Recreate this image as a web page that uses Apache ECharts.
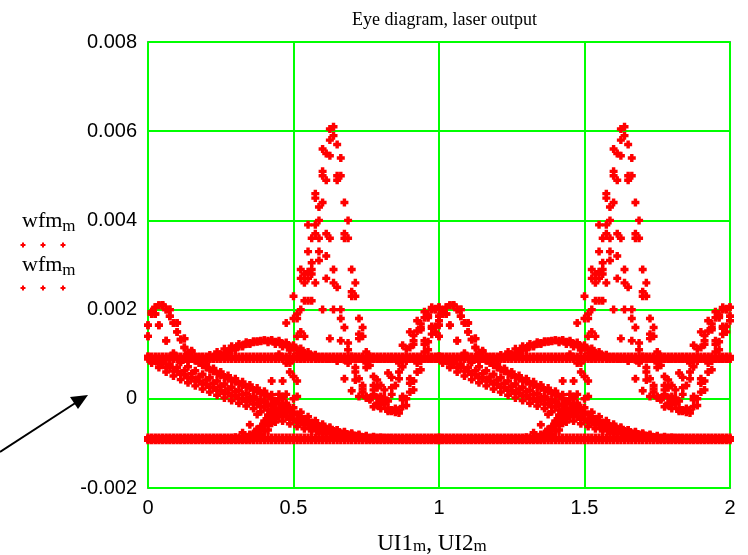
<!DOCTYPE html>
<html><head><meta charset="utf-8">
<script src="https://cdn.jsdelivr.net/npm/echarts@6/dist/echarts.min.js"></script>
<style>html,body{margin:0;padding:0;background:#fff}#c{width:748px;height:555px}</style>
</head><body><div id="c"></div>
<script>
// Sample positions inside one unit interval (grid A and interleaved grid B)
const UI1_A = [0,0.025,0.05,0.075,0.1,0.125,0.15,0.175,0.2,0.225,0.25,0.275,0.3,0.325,0.35,0.375,0.4,0.425,0.45,0.475,0.5,0.525,0.55,0.575,0.6,0.625,0.65,0.675,0.7,0.725,0.75,0.775,0.8,0.825,0.85,0.875,0.9,0.925,0.95,0.975,1];
const UI1_B = [0.0125,0.0375,0.0625,0.0875,0.1125,0.1375,0.1625,0.1875,0.2125,0.2375,0.2625,0.2875,0.3125,0.3375,0.3625,0.3875,0.4125,0.4375,0.4625,0.4875,0.5125,0.5375,0.5625,0.5875,0.6125,0.6375,0.6625,0.6875,0.7125,0.7375,0.7625,0.7875,0.8125,0.8375,0.8625,0.8875,0.9125,0.9375,0.9625,0.9875];
const UI2_A = [1,1.025,1.05,1.075,1.1,1.125,1.15,1.175,1.2,1.225,1.25,1.275,1.3,1.325,1.35,1.375,1.4,1.425,1.45,1.475,1.5,1.525,1.55,1.575,1.6,1.625,1.65,1.675,1.7,1.725,1.75,1.775,1.8,1.825,1.85,1.875,1.9,1.925,1.95,1.975,2];
const UI2_B = [1.0125,1.0375,1.0625,1.0875,1.1125,1.1375,1.1625,1.1875,1.2125,1.2375,1.2625,1.2875,1.3125,1.3375,1.3625,1.3875,1.4125,1.4375,1.4625,1.4875,1.5125,1.5375,1.5625,1.5875,1.6125,1.6375,1.6625,1.6875,1.7125,1.7375,1.7625,1.7875,1.8125,1.8375,1.8625,1.8875,1.9125,1.9375,1.9625,1.9875];

// wfm traces, grid A (41 samples) and grid B (40 samples)
const WFM_LOW_A = [-0.87e-3,-0.87e-3,-0.87e-3,-0.87e-3,-0.87e-3,-0.87e-3,-0.87e-3,-0.87e-3,-0.87e-3,-0.87e-3,-0.87e-3,-0.87e-3,-0.87e-3,-0.87e-3,-0.87e-3,-0.87e-3,-0.87e-3,-0.87e-3,-0.87e-3,-0.87e-3,-0.87e-3,-0.87e-3,-0.87e-3,-0.87e-3,-0.87e-3,-0.87e-3,-0.87e-3,-0.87e-3,-0.87e-3,-0.87e-3,-0.87e-3,-0.87e-3,-0.87e-3,-0.87e-3,-0.87e-3,-0.87e-3,-0.87e-3,-0.87e-3,-0.87e-3,-0.87e-3,-0.87e-3];
const WFM_LOW2_A = [-0.93e-3,-0.93e-3,-0.93e-3,-0.93e-3,-0.93e-3,-0.93e-3,-0.93e-3,-0.93e-3,-0.93e-3,-0.93e-3,-0.93e-3,-0.93e-3,-0.93e-3,-0.93e-3,-0.93e-3,-0.93e-3,-0.93e-3,-0.93e-3,-0.93e-3,-0.93e-3,-0.93e-3,-0.93e-3,-0.93e-3,-0.93e-3,-0.93e-3,-0.93e-3,-0.93e-3,-0.93e-3,-0.93e-3,-0.93e-3,-0.93e-3,-0.93e-3,-0.93e-3,-0.93e-3,-0.93e-3,-0.93e-3,-0.93e-3,-0.93e-3,-0.93e-3,-0.93e-3,-0.93e-3];
const WFM_LOW_B = [-0.93e-3,-0.93e-3,-0.93e-3,-0.93e-3,-0.93e-3,-0.93e-3,-0.93e-3,-0.93e-3,-0.93e-3,-0.93e-3,-0.93e-3,-0.93e-3,-0.93e-3,-0.93e-3,-0.93e-3,-0.93e-3,-0.93e-3,-0.93e-3,-0.93e-3,-0.93e-3,-0.93e-3,-0.93e-3,-0.93e-3,-0.93e-3,-0.93e-3,-0.93e-3,-0.93e-3,-0.93e-3,-0.93e-3,-0.93e-3,-0.93e-3,-0.93e-3,-0.93e-3,-0.93e-3,-0.93e-3,-0.93e-3,-0.93e-3,-0.93e-3,-0.93e-3,-0.93e-3];
const WFM_LOW2_B = [-0.87e-3,-0.87e-3,-0.87e-3,-0.87e-3,-0.87e-3,-0.87e-3,-0.87e-3,-0.87e-3,-0.87e-3,-0.87e-3,-0.87e-3,-0.87e-3,-0.87e-3,-0.87e-3,-0.87e-3,-0.87e-3,-0.87e-3,-0.87e-3,-0.87e-3,-0.87e-3,-0.87e-3,-0.87e-3,-0.87e-3,-0.87e-3,-0.87e-3,-0.87e-3,-0.87e-3,-0.87e-3,-0.87e-3,-0.87e-3,-0.87e-3,-0.87e-3,-0.87e-3,-0.87e-3,-0.87e-3,-0.87e-3,-0.87e-3,-0.87e-3,-0.87e-3,-0.87e-3];
const WFM_HIGH_A = [0.95e-3,0.95e-3,0.95e-3,0.95e-3,0.95e-3,0.95e-3,0.95e-3,0.95e-3,0.95e-3,0.95e-3,0.95e-3,0.95e-3,0.95e-3,0.95e-3,0.95e-3,0.95e-3,0.95e-3,0.95e-3,0.95e-3,0.95e-3,0.95e-3,0.95e-3,0.95e-3,0.95e-3,0.95e-3,0.95e-3,0.95e-3,0.95e-3,0.95e-3,0.95e-3,0.95e-3,0.95e-3,0.95e-3,0.95e-3,0.95e-3,0.95e-3,0.95e-3,0.95e-3,0.95e-3,0.95e-3,0.95e-3];
const WFM_HIGH2_A = [0.89e-3,0.89e-3,0.89e-3,0.89e-3,0.89e-3,0.89e-3,0.89e-3,0.89e-3,0.89e-3,0.89e-3,0.89e-3,0.89e-3,0.89e-3,0.89e-3,0.89e-3,0.89e-3,0.89e-3,0.89e-3,0.89e-3,0.89e-3,0.89e-3,0.89e-3,0.89e-3,0.89e-3,0.89e-3,0.89e-3,0.89e-3,0.89e-3,0.89e-3,0.89e-3,0.89e-3,0.89e-3,0.89e-3,0.89e-3,0.89e-3,0.89e-3,0.89e-3,0.89e-3,0.89e-3,0.89e-3,0.89e-3];
const WFM_HIGH_B = [0.89e-3,0.89e-3,0.89e-3,0.89e-3,0.89e-3,0.89e-3,0.89e-3,0.89e-3,0.89e-3,0.89e-3,0.89e-3,0.89e-3,0.89e-3,0.89e-3,0.89e-3,0.89e-3,0.89e-3,0.89e-3,0.89e-3,0.89e-3,0.89e-3,0.89e-3,0.89e-3,0.89e-3,0.89e-3,0.89e-3,0.89e-3,0.89e-3,0.89e-3,0.89e-3,0.89e-3,0.89e-3,0.89e-3,0.89e-3,0.89e-3,0.89e-3,0.89e-3,0.89e-3,0.89e-3,0.89e-3];
const WFM_HIGH2_B = [0.95e-3,0.95e-3,0.95e-3,0.95e-3,0.95e-3,0.95e-3,0.95e-3,0.95e-3,0.95e-3,0.95e-3,0.95e-3,0.95e-3,0.95e-3,0.95e-3,0.95e-3,0.95e-3,0.95e-3,0.95e-3,0.95e-3,0.95e-3,0.95e-3,0.95e-3,0.95e-3,0.95e-3,0.95e-3,0.95e-3,0.95e-3,0.95e-3,0.95e-3,0.95e-3,0.95e-3,0.95e-3,0.95e-3,0.95e-3,0.95e-3,0.95e-3,0.95e-3,0.95e-3,0.95e-3,0.95e-3];

const WFM_FALL_A = [0.92e-3,0.85e-3,0.78e-3,0.70e-3,0.62e-3,0.55e-3,0.47e-3,0.40e-3,0.33e-3,0.26e-3,0.19e-3,0.13e-3,0.07e-3,0.01e-3,-0.05e-3,-0.11e-3,-0.18e-3,-0.25e-3,-0.32e-3,-0.39e-3,-0.45e-3,-0.51e-3,-0.57e-3,-0.62e-3,-0.67e-3,-0.71e-3,-0.75e-3,-0.78e-3,-0.81e-3,-0.84e-3,-0.86e-3,-0.87e-3,-0.88e-3,-0.89e-3,-0.9e-3,-0.9e-3,-0.9e-3,-0.9e-3,-0.9e-3,-0.9e-3,-0.9e-3];
const WFM_FALL2_A = [0.95e-3,0.9e-3,0.84e-3,0.77e-3,0.7e-3,0.63e-3,0.56e-3,0.49e-3,0.42e-3,0.35e-3,0.28e-3,0.22e-3,0.16e-3,0.1e-3,0.04e-3,-0.02e-3,-0.08e-3,-0.15e-3,-0.22e-3,-0.29e-3,-0.36e-3,-0.43e-3,-0.5e-3,-0.56e-3,-0.61e-3,-0.66e-3,-0.7e-3,-0.74e-3,-0.77e-3,-0.8e-3,-0.83e-3,-0.85e-3,-0.87e-3,-0.88e-3,-0.89e-3,-0.9e-3,-0.9e-3,-0.9e-3,-0.9e-3,-0.9e-3,-0.9e-3];
const WFM_FALL_B = [0.85e-3,0.78e-3,0.70e-3,0.62e-3,0.55e-3,0.47e-3,0.40e-3,0.33e-3,0.26e-3,0.19e-3,0.12e-3,0.06e-3,0.0,-0.06e-3,-0.12e-3,-0.18e-3,-0.25e-3,-0.32e-3,-0.39e-3,-0.46e-3,-0.52e-3,-0.58e-3,-0.63e-3,-0.68e-3,-0.72e-3,-0.76e-3,-0.79e-3,-0.82e-3,-0.84e-3,-0.86e-3,-0.88e-3,-0.89e-3,-0.9e-3,-0.9e-3,-0.9e-3,-0.9e-3,-0.9e-3,-0.9e-3,-0.9e-3,-0.9e-3];
const WFM_FALL2_B = [0.8e-3,0.7e-3,0.6e-3,0.51e-3,0.43e-3,0.36e-3,0.29e-3,0.22e-3,0.15e-3,0.08e-3,0.02e-3,-0.04e-3,-0.1e-3,-0.16e-3,-0.22e-3,-0.29e-3,-0.36e-3,-0.43e-3,-0.5e-3,-0.56e-3,-0.62e-3,-0.67e-3,-0.72e-3,-0.76e-3,-0.79e-3,-0.82e-3,-0.85e-3,-0.87e-3,-0.88e-3,-0.89e-3,-0.9e-3,-0.9e-3,-0.9e-3,-0.9e-3,-0.9e-3,-0.9e-3,-0.9e-3,-0.9e-3,-0.9e-3,-0.9e-3];

const WFM_RING10_A = [1.65e-3,2.05e-3,2.1e-3,1.85e-3,1.5e-3,1.15e-3,0.92e-3,0.8e-3,0.7e-3,0.61e-3,0.53e-3,0.45e-3,0.38e-3,0.31e-3,0.24e-3,0.17e-3,0.09e-3,0.0,-0.1e-3,-0.2e-3,-0.3e-3,-0.4e-3,-0.49e-3,-0.57e-3,-0.64e-3,-0.7e-3,-0.75e-3,-0.79e-3,-0.82e-3,-0.85e-3,-0.87e-3,-0.88e-3,-0.89e-3,-0.9e-3,-0.9e-3,-0.9e-3,-0.9e-3,-0.9e-3,-0.9e-3,-0.9e-3,-0.9e-3];
const WFM_RING10_2A = [1.4e-3,1.9e-3,2.1e-3,2.0e-3,1.7e-3,1.35e-3,1.05e-3,0.88e-3,0.77e-3,0.68e-3,0.6e-3,0.52e-3,0.45e-3,0.38e-3,0.31e-3,0.24e-3,0.17e-3,0.09e-3,0.0,-0.1e-3,-0.2e-3,-0.3e-3,-0.4e-3,-0.49e-3,-0.57e-3,-0.64e-3,-0.7e-3,-0.75e-3,-0.79e-3,-0.82e-3,-0.85e-3,-0.87e-3,-0.88e-3,-0.89e-3,-0.9e-3,-0.9e-3,-0.9e-3,-0.9e-3,-0.9e-3,-0.9e-3,-0.9e-3];
const WFM_RING10_B = [1.95e-3,1.65e-3,1.3e-3,1.0e-3,0.82e-3,0.72e-3,0.63e-3,0.55e-3,0.47e-3,0.4e-3,0.33e-3,0.26e-3,0.19e-3,0.12e-3,0.05e-3,-0.03e-3,-0.12e-3,-0.22e-3,-0.32e-3,-0.42e-3,-0.51e-3,-0.59e-3,-0.66e-3,-0.72e-3,-0.77e-3,-0.81e-3,-0.84e-3,-0.86e-3,-0.88e-3,-0.89e-3,-0.9e-3,-0.9e-3,-0.9e-3,-0.9e-3,-0.9e-3,-0.9e-3,-0.9e-3,-0.9e-3,-0.9e-3,-0.9e-3];
const WFM_RING10_2B = [1.9e-3,2.1e-3,2.0e-3,1.7e-3,1.33e-3,1.03e-3,0.86e-3,0.75e-3,0.65e-3,0.57e-3,0.49e-3,0.41e-3,0.34e-3,0.27e-3,0.2e-3,0.13e-3,0.05e-3,-0.05e-3,-0.15e-3,-0.25e-3,-0.35e-3,-0.45e-3,-0.53e-3,-0.61e-3,-0.67e-3,-0.72e-3,-0.77e-3,-0.8e-3,-0.83e-3,-0.86e-3,-0.88e-3,-0.89e-3,-0.9e-3,-0.9e-3,-0.9e-3,-0.9e-3,-0.9e-3,-0.9e-3,-0.9e-3,-0.9e-3];

const WFM_RING11_A = [1.65e-3,2.05e-3,2.1e-3,1.85e-3,1.5e-3,1.15e-3,0.95e-3,0.88e-3,0.88e-3,0.93e-3,1.0e-3,1.07e-3,1.14e-3,1.2e-3,1.25e-3,1.29e-3,1.31e-3,1.3e-3,1.27e-3,1.22e-3,1.15e-3,1.07e-3,1.0e-3,0.95e-3,0.91e-3,0.89e-3,0.88e-3,0.88e-3,0.89e-3,0.9e-3,0.9e-3,0.9e-3,0.9e-3,0.9e-3,0.9e-3,0.9e-3,0.9e-3,0.9e-3,0.9e-3,0.9e-3,0.9e-3];
const WFM_RING11_2A = [1.4e-3,1.9e-3,2.1e-3,2.0e-3,1.7e-3,1.35e-3,1.08e-3,0.94e-3,0.88e-3,0.9e-3,0.96e-3,1.03e-3,1.1e-3,1.17e-3,1.23e-3,1.28e-3,1.31e-3,1.32e-3,1.3e-3,1.26e-3,1.2e-3,1.13e-3,1.05e-3,0.99e-3,0.94e-3,0.91e-3,0.89e-3,0.88e-3,0.89e-3,0.9e-3,0.9e-3,0.9e-3,0.9e-3,0.9e-3,0.9e-3,0.9e-3,0.9e-3,0.9e-3,0.9e-3,0.9e-3,0.9e-3];
const WFM_RING11_B = [1.95e-3,1.65e-3,1.3e-3,1.02e-3,0.88e-3,0.84e-3,0.86e-3,0.91e-3,0.98e-3,1.05e-3,1.12e-3,1.18e-3,1.23e-3,1.27e-3,1.29e-3,1.29e-3,1.27e-3,1.23e-3,1.17e-3,1.1e-3,1.03e-3,0.97e-3,0.93e-3,0.9e-3,0.89e-3,0.89e-3,0.9e-3,0.9e-3,0.9e-3,0.9e-3,0.9e-3,0.9e-3,0.9e-3,0.9e-3,0.9e-3,0.9e-3,0.9e-3,0.9e-3,0.9e-3,0.9e-3];
const WFM_RING11_2B = [1.9e-3,2.1e-3,2.0e-3,1.7e-3,1.33e-3,1.03e-3,0.9e-3,0.87e-3,0.9e-3,0.96e-3,1.03e-3,1.1e-3,1.17e-3,1.23e-3,1.27e-3,1.3e-3,1.3e-3,1.28e-3,1.24e-3,1.18e-3,1.11e-3,1.03e-3,0.97e-3,0.93e-3,0.9e-3,0.89e-3,0.89e-3,0.9e-3,0.9e-3,0.9e-3,0.9e-3,0.9e-3,0.9e-3,0.9e-3,0.9e-3,0.9e-3,0.9e-3,0.9e-3,0.9e-3,0.9e-3];

const WFM_RISE1_A = [-0.9e-3,-0.9e-3,-0.9e-3,-0.9e-3,-0.9e-3,-0.9e-3,-0.9e-3,-0.9e-3,-0.9e-3,-0.9e-3,-0.9e-3,-0.9e-3,-0.9e-3,-0.9e-3,-0.87e-3,-0.76e-3,-0.55e-3,-0.42e-3,-0.34e-3,-0.22e-3,0.0,0.9e-3,2.2e-3,3.7e-3,5.1e-3,6.05e-3,5.7e-3,4.4e-3,2.9e-3,1.8e-3,1.05e-3,0.5e-3,0.05e-3,-0.22e-3,-0.3e-3,-0.17e-3,0.15e-3,0.6e-3,1.05e-3,1.45e-3,1.75e-3];
const WFM_RISE1_B = [-0.9e-3,-0.9e-3,-0.9e-3,-0.9e-3,-0.9e-3,-0.9e-3,-0.9e-3,-0.9e-3,-0.9e-3,-0.9e-3,-0.9e-3,-0.9e-3,-0.9e-3,-0.9e-3,-0.88e-3,-0.8e-3,-0.6e-3,-0.45e-3,-0.36e-3,-0.2e-3,0.4e-3,1.4e-3,2.8e-3,4.3e-3,5.5e-3,5.9e-3,5.0e-3,3.6e-3,2.3e-3,1.4e-3,0.75e-3,0.25e-3,-0.1e-3,-0.28e-3,-0.25e-3,0.0,0.4e-3,0.85e-3,1.28e-3,1.62e-3];
const WFM_RISE2_A = [-0.9e-3,-0.9e-3,-0.9e-3,-0.9e-3,-0.9e-3,-0.9e-3,-0.9e-3,-0.9e-3,-0.9e-3,-0.9e-3,-0.9e-3,-0.9e-3,-0.9e-3,-0.88e-3,-0.8e-3,-0.68e-3,-0.5e-3,-0.3e-3,0.1e-3,0.8e-3,1.8e-3,2.9e-3,3.9e-3,4.5e-3,4.4e-3,3.6e-3,2.5e-3,1.6e-3,0.95e-3,0.45e-3,0.05e-3,-0.18e-3,-0.22e-3,-0.05e-3,0.3e-3,0.72e-3,1.15e-3,1.52e-3,1.82e-3,2.0e-3,2.05e-3];
const WFM_RISE2_B = [-0.9e-3,-0.9e-3,-0.9e-3,-0.9e-3,-0.9e-3,-0.9e-3,-0.9e-3,-0.9e-3,-0.9e-3,-0.9e-3,-0.9e-3,-0.9e-3,-0.9e-3,-0.87e-3,-0.78e-3,-0.62e-3,-0.4e-3,-0.1e-3,0.4e-3,1.1e-3,1.9e-3,2.6e-3,3.05e-3,3.1e-3,2.7e-3,2.0e-3,1.3e-3,0.8e-3,0.42e-3,0.15e-3,0.02e-3,0.03e-3,0.2e-3,0.48e-3,0.8e-3,1.12e-3,1.42e-3,1.68e-3,1.88e-3,2.02e-3];
const WFM_RISE3_A = [-0.9e-3,-0.9e-3,-0.9e-3,-0.9e-3,-0.9e-3,-0.9e-3,-0.9e-3,-0.9e-3,-0.9e-3,-0.9e-3,-0.9e-3,-0.9e-3,-0.9e-3,-0.9e-3,-0.9e-3,-0.85e-3,-0.72e-3,-0.55e-3,-0.4e-3,-0.15e-3,0.5e-3,1.5e-3,2.7e-3,3.9e-3,5.0e-3,5.45e-3,4.9e-3,3.7e-3,2.4e-3,1.45e-3,0.8e-3,0.3e-3,-0.05e-3,-0.25e-3,-0.22e-3,0.05e-3,0.45e-3,0.9e-3,1.3e-3,1.62e-3,1.85e-3];
const WFM_RISE3_B = [-0.9e-3,-0.9e-3,-0.9e-3,-0.9e-3,-0.9e-3,-0.9e-3,-0.9e-3,-0.9e-3,-0.9e-3,-0.9e-3,-0.9e-3,-0.9e-3,-0.9e-3,-0.9e-3,-0.84e-3,-0.7e-3,-0.5e-3,-0.3e-3,0.0,0.6e-3,1.4e-3,2.2e-3,2.9e-3,3.3e-3,3.2e-3,2.6e-3,1.8e-3,1.1e-3,0.6e-3,0.22e-3,-0.02e-3,-0.1e-3,0.0,0.25e-3,0.6e-3,0.95e-3,1.3e-3,1.6e-3,1.85e-3,2.0e-3];
const WFM_RISE4_A = [-0.9e-3,-0.9e-3,-0.9e-3,-0.9e-3,-0.9e-3,-0.9e-3,-0.9e-3,-0.9e-3,-0.9e-3,-0.9e-3,-0.9e-3,-0.9e-3,-0.9e-3,-0.88e-3,-0.82e-3,-0.7e-3,-0.5e-3,-0.38e-3,-0.28e-3,0.1e-3,0.9e-3,2.0e-3,3.3e-3,4.6e-3,5.6e-3,5.8e-3,5.0e-3,3.6e-3,2.3e-3,1.35e-3,0.7e-3,0.2e-3,-0.12e-3,-0.28e-3,-0.25e-3,-0.02e-3,0.35e-3,0.8e-3,1.22e-3,1.58e-3,1.85e-3];
const WFM_RISE4_B = [-0.9e-3,-0.9e-3,-0.9e-3,-0.9e-3,-0.9e-3,-0.9e-3,-0.9e-3,-0.9e-3,-0.9e-3,-0.9e-3,-0.9e-3,-0.9e-3,-0.9e-3,-0.9e-3,-0.9e-3,-0.84e-3,-0.7e-3,-0.52e-3,-0.4e-3,-0.28e-3,0.05e-3,0.9e-3,2.2e-3,3.6e-3,4.9e-3,6.1e-3,5.4e-3,4.0e-3,2.6e-3,1.6e-3,0.95e-3,0.42e-3,0.02e-3,-0.25e-3,-0.32e-3,-0.15e-3,0.2e-3,0.65e-3,1.1e-3,1.5e-3];
const WFM_RISE5_A = [-0.9e-3,-0.9e-3,-0.9e-3,-0.9e-3,-0.9e-3,-0.9e-3,-0.9e-3,-0.9e-3,-0.9e-3,-0.9e-3,-0.9e-3,-0.9e-3,-0.86e-3,-0.76e-3,-0.58e-3,-0.35e-3,-0.05e-3,0.4e-3,1.0e-3,1.7e-3,2.3e-3,2.7e-3,2.85e-3,2.6e-3,2.0e-3,1.35e-3,0.85e-3,0.45e-3,0.18e-3,0.05e-3,0.02e-3,0.1e-3,0.3e-3,0.58e-3,0.9e-3,1.2e-3,1.5e-3,1.75e-3,1.95e-3,2.05e-3,2.05e-3];
const WFM_RISE5_B = [-0.9e-3,-0.9e-3,-0.9e-3,-0.9e-3,-0.9e-3,-0.9e-3,-0.9e-3,-0.9e-3,-0.9e-3,-0.9e-3,-0.9e-3,-0.9e-3,-0.9e-3,-0.88e-3,-0.8e-3,-0.66e-3,-0.48e-3,-0.3e-3,0.05e-3,0.8e-3,1.8e-3,2.8e-3,3.6e-3,4.0e-3,3.7e-3,2.9e-3,2.0e-3,1.25e-3,0.7e-3,0.3e-3,0.0,-0.15e-3,-0.12e-3,0.1e-3,0.45e-3,0.85e-3,1.22e-3,1.55e-3,1.82e-3,2.0e-3];

// tick labels
const X_TICK_LABELS = ['0','0.5','1','1.5','2'];
const Y_TICK_LABELS = ['-0.002','0','0.002','0.004','0.006','0.008'];

const A = [UI1_A, UI2_A], B = [UI1_B, UI2_B];
const TRACES = [
  [A, WFM_LOW_A], [A, WFM_LOW2_A], [B, WFM_LOW_B], [B, WFM_LOW2_B],
  [A, WFM_HIGH_A], [A, WFM_HIGH2_A], [B, WFM_HIGH_B], [B, WFM_HIGH2_B],
  [A, WFM_FALL_A], [A, WFM_FALL2_A], [B, WFM_FALL_B], [B, WFM_FALL2_B],
  [A, WFM_RING10_A], [A, WFM_RING10_2A], [B, WFM_RING10_B], [B, WFM_RING10_2B],
  [A, WFM_RING11_A], [A, WFM_RING11_2A], [B, WFM_RING11_B], [B, WFM_RING11_2B],
  [A, WFM_RISE1_A], [B, WFM_RISE1_B], [A, WFM_RISE2_A], [B, WFM_RISE2_B],
  [A, WFM_RISE3_A], [B, WFM_RISE3_B], [A, WFM_RISE4_A], [B, WFM_RISE4_B],
  [A, WFM_RISE5_A], [B, WFM_RISE5_B]
];

const data1 = [], data2 = [];
TRACES.forEach(([[xa, xb], ys]) => {
  ys.forEach((y, i) => { data1.push([xa[i], y]); data2.push([xb[i], y]); });
});

const CROSS = 'path://M2,0L5,0L5,2L7,2L7,5L5,5L5,7L2,7L2,5L0,5L0,2L2,2Z';
const RED = '#ff0000';
const serif = '"Liberation Serif", "DejaVu Serif", serif';
const sans = '"Liberation Sans", Arial, sans-serif';

function crossAt(x, y) {
  return [
    {type:'rect', shape:{x:x-2.5, y:y-1, width:5, height:2}, style:{fill:RED}},
    {type:'rect', shape:{x:x-1, y:y-2.5, width:2, height:5}, style:{fill:RED}}
  ];
}
const legendText = (top) => ({type:'text', left: 22, top: top, style:{text:'{a|wfm}{s|m}', rich:{
  a:{fontFamily: serif, fontSize: 22, fill:'#000'},
  s:{fontFamily: serif, fontSize: 17, fill:'#000', padding:[12,0,0,0]}}}});

const chart = echarts.init(document.getElementById('c'), null, {renderer:'canvas'});
chart.setOption({
  animation: false,
  backgroundColor: '#fff',
  title: {
    text: 'Eye diagram, laser output', left: 347, top: 6,
    textStyle: {fontFamily: serif, fontSize: 18, fontWeight: 'normal', color: '#000'}
  },
  grid: {left: 148, right: 18, top: 42, bottom: 67, outerBoundsMode: 'none', containLabel: false,
    show: true, borderColor: '#111', borderWidth: 1.5, backgroundColor: 'transparent'},
  xAxis: {
    type: 'value', min: 0, max: 2, interval: 0.5,
    axisLine: {show: false}, axisTick: {show: false},
    splitLine: {show: true, lineStyle: {color: '#00ff00', width: 2}},
    axisLabel: {margin: 10, fontFamily: sans, fontSize: 20, color: '#000',
      formatter: v => X_TICK_LABELS[Math.round(v / 0.5)]},
    name: '{a|UI1}{s|m}{a|, UI2}{s|m}', nameLocation: 'middle', nameGap: 40,
    nameTextStyle: {padding: [0, 14, 0, 0], rich: {
      a: {fontFamily: serif, fontSize: 23, color: '#000', verticalAlign: 'bottom'},
      s: {fontFamily: serif, fontSize: 17, color: '#000', padding: [10, 0, 0, 0], verticalAlign: 'bottom'}
    }}
  },
  yAxis: {
    type: 'value', min: -0.002, max: 0.008, interval: 0.002,
    axisLine: {show: false}, axisTick: {show: false},
    splitLine: {show: true, lineStyle: {color: '#00ff00', width: 2}},
    axisLabel: {margin: 11, fontFamily: sans, fontSize: 20, color: '#000',
      formatter: v => Y_TICK_LABELS[Math.round((v + 0.002) / 0.002)]}
  },
  series: [
    {name: 'wfm vs UI1', type: 'scatter', data: data1, symbol: CROSS, symbolSize: 8,
      itemStyle: {color: RED, opacity: 1}, silent: true, z: 3},
    {name: 'wfm vs UI2', type: 'scatter', data: data2, symbol: CROSS, symbolSize: 8,
      itemStyle: {color: RED, opacity: 1}, silent: true, z: 3}
  ],
  graphic: [
    legendText(210), legendText(254),
    ...crossAt(23, 245), ...crossAt(43, 245), ...crossAt(63, 245),
    ...crossAt(23, 288), ...crossAt(43, 288), ...crossAt(63, 288),
    {type:'line', shape:{x1:0, y1:452, x2:80, y2:400}, style:{stroke:'#000', lineWidth:2}},
    {type:'polygon', shape:{points:[[88,395],[70,397],[78,409]]}, style:{fill:'#000'}}
  ]
});
</script></body></html>
